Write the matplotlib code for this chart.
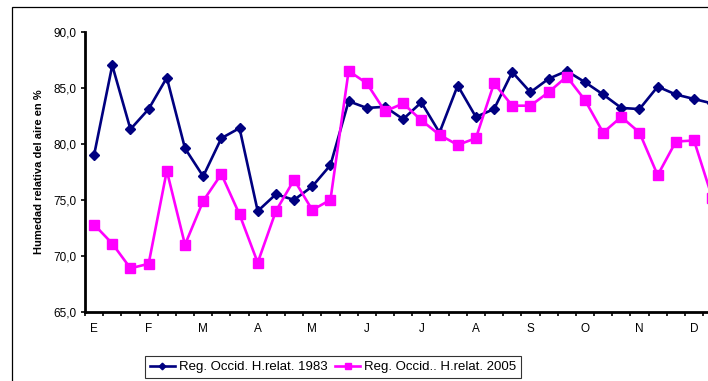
import matplotlib.pyplot as plt
from matplotlib.patches import Rectangle

plt.rcParams['font.family'] = ['Liberation Sans', 'DejaVu Sans']

# ------------------------------------------------
# DATA (three values per month, decades)
# ------------------------------------------------

months = ['E', 'F', 'M', 'A', 'M', 'J', 'J', 'A', 'S', 'O', 'N', 'D']

hr_1983 = [79.0, 87.0, 81.3, 83.1, 85.9, 79.6, 77.1, 80.5, 81.4, 74.0,
           75.5, 75.0, 76.2, 78.1, 83.8, 83.2, 83.3, 82.2, 83.7, 81.0,
           85.2, 82.4, 83.1, 86.4, 84.6, 85.8, 86.5, 85.5, 84.4, 83.2,
           83.1, 85.1, 84.4, 84.0, 83.6]

hr_2005 = [72.8, 71.1, 68.9, 69.3, 77.6, 71.0, 74.9, 77.3, 73.7, 69.4,
           74.0, 76.8, 74.1, 75.0, 86.5, 85.4, 82.9, 83.6, 82.1, 80.8,
           79.9, 80.5, 85.4, 83.4, 83.4, 84.6, 86.0, 83.9, 81.0, 82.4,
           81.0, 77.2, 80.2, 80.3, 75.2]

y_ticks = [65, 70, 75, 80, 85, 90]
y_tick_labels = ['65,0', '70,0', '75,0', '80,0', '85,0', '90,0']

n_cat = 36

# ------------------------------------------------
# FIGURE
# ------------------------------------------------

fig = plt.figure(figsize=(7.08, 3.81), dpi=100)

# outer chart frame (cut off at right and bottom)
fig.patches.append(Rectangle((11.5/708, -0.1), 1.2, (381-7)/381+0.1,
                             transform=fig.transFigure, fill=False,
                             ec='black', lw=0.9))

ax = fig.add_axes([85/708, (381-312)/381, n_cat*18.18/708, (312-31.7)/381])

x = list(range(len(hr_1983)))

ax.plot(x, hr_1983, color='#000080', lw=1.9, marker='D', ms=4.8,
        label='Reg. Occid. H.relat. 1983')
ax.plot(x, hr_2005, color='#FF00FF', lw=1.9, marker='s', ms=7,
        label='Reg. Occid.. H.relat. 2005')

ax.set_xlim(-0.5, n_cat-0.5)
ax.set_ylim(65, 90)

ax.set_yticks(y_ticks)
ax.set_yticklabels(y_tick_labels, fontsize=8.5)
ax.tick_params(axis='y', length=3, width=1.2, pad=3)

ax.set_xticks(range(0, 3*len(months), 3))
ax.set_xticklabels(months, fontsize=8.5)
ax.set_xticks([i-0.5 for i in range(n_cat+1)], minor=True)
ax.tick_params(axis='x', which='major', length=0, pad=8)
ax.tick_params(axis='x', which='minor', length=3, width=1.2)

for side in ['top', 'right']:
    ax.spines[side].set_visible(False)
for side in ['left', 'bottom']:
    ax.spines[side].set_linewidth(2)

ax.set_ylabel('Humedad relativa del aire en %', fontsize=8, fontweight='bold',
              labelpad=7)

leg = fig.legend(loc='center', bbox_to_anchor=(333/708, 1-367/381), ncol=2,
                 fontsize=9.5, frameon=True, fancybox=False, edgecolor='black',
                 handlelength=1.9, handletextpad=0.3, columnspacing=0.6,
                 borderpad=0.35, markerscale=0.7)
leg.get_frame().set_linewidth(0.8)

plt.savefig('out.png', dpi=100)
